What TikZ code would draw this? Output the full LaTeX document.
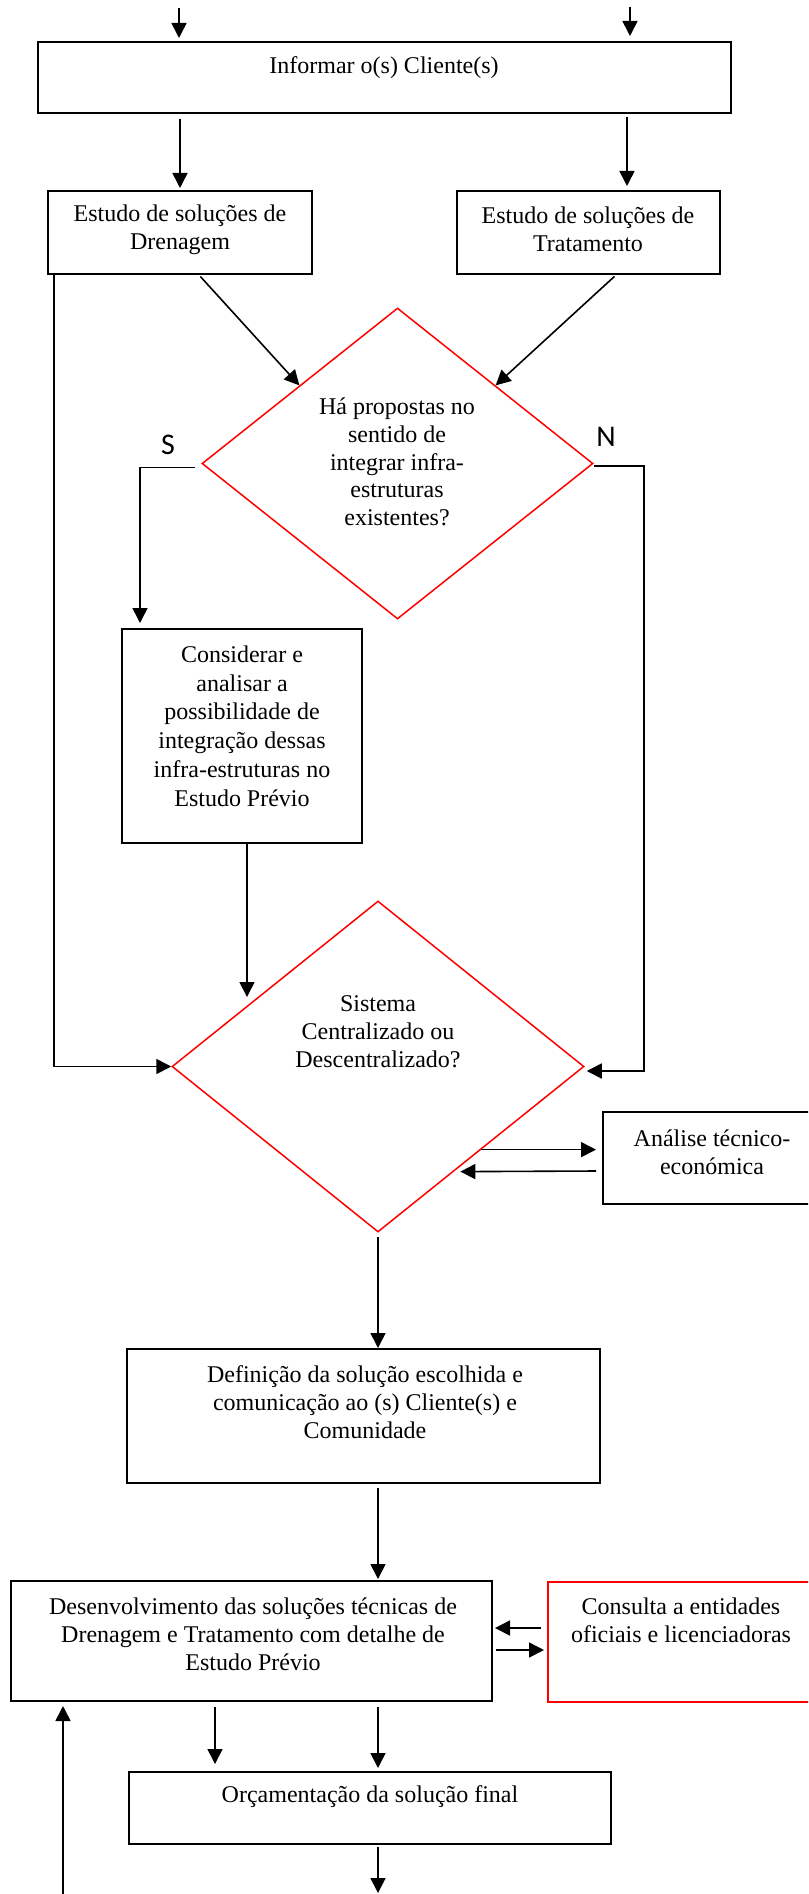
\documentclass[tikz,border=0pt]{standalone}
\usepackage{fontspec}
\setmainfont{Liberation Serif}
\newfontfamily\yesnofont{Carlito}
\usetikzlibrary{shapes.geometric,arrows.meta,calc,fit}

\begin{document}
\begin{tikzpicture}[x=0.5pt,y=-0.5pt,
  font=\fontsize{12}{13.9}\selectfont,
  box/.style={draw=black,line width=1pt,inner sep=0pt,rectangle},
  redbox/.style={draw=red,line width=1pt,inner sep=0pt,rectangle},
  dia/.style={draw=red,line width=0.75pt,diamond,inner sep=0pt,shape aspect=1},
  txt/.style={align=center,inner sep=0pt},
  yn/.style={inner sep=0pt,font=\yesnofont\fontsize{15}{15}\selectfont},
  arr/.style={-{Triangle[length=7.5pt,width=7.5pt]},line width=0.8pt}]

\useasboundingbox (0,0) rectangle (808,1894);
\clip (0,0) rectangle (808,1894);

% ---- boxes ----
\node[box,fit={(38,42) (731,113)}] (inf) {};
\node[txt] (inf-t) at (384,68) {Informar o(s) Cliente(s)};

\node[box,fit={(48,191) (312,274)}] (dren) {};
\node[txt] (dren-t) at (180,229.5) {Estudo de soluções de\\Drenagem};

\node[box,fit={(457,191) (720,274)}] (trat) {};
\node[txt] (trat-t) at (588,229.5) {Estudo de soluções de\\Tratamento};

\node[dia,minimum width=195.5pt,minimum height=155.5pt] (d1) at (397.5,463.5) {};
\node[txt] (d1-t) at (397,462) {Há propostas no\\sentido de\\integrar infra-\\estruturas\\existentes?};

\node[yn] (s-lab) at (168,445) {S};
\node[yn] (n-lab) at (606,437) {N};

\node[box,fit={(122,629) (362,843)}] (consid) {};
\node[txt,font=\fontsize{12}{14.4}\selectfont] (consid-t) at (242,726) {Considerar e\\analisar a\\possibilidade de\\integração dessas\\infra-estruturas no\\Estudo Prévio};

\node[dia,minimum width=206pt,minimum height=165.5pt] (d2) at (378,1066.5) {};
\node[txt] (d2-t) at (378,1031.5) {Sistema\\Centralizado ou\\Descentralizado?};

\node[box,fit={(603,1112) (840,1204)}] (ana) {};
\node[txt] (ana-t) at (712,1152) {Análise técnico-\\económica};

\node[box,fit={(127,1349) (600,1483)}] (def) {};
\node[txt] (def-t) at (365,1402) {Definição da solução escolhida e\\comunicação ao (s) Cliente(s) e\\Comunidade};

\node[box,fit={(11,1581) (492,1701)}] (des) {};
\node[txt] (des-t) at (253,1634.5) {Desenvolvimento das soluções técnicas de\\Drenagem e Tratamento com detalhe de\\Estudo Prévio};

\node[redbox,fit={(548,1582) (840,1702)}] (consulta) {};
\node[txt] (consulta-t) at (681,1620.5) {Consulta a entidades\\oficiais e licenciadoras};

\node[box,fit={(129,1772) (611,1844)}] (orc) {};
\node[txt] (orc-t) at (370,1797) {Orçamentação da solução final};

% ---- free ends ----
\coordinate (inL) at (179,8);
\coordinate (inR) at (630,7);
\coordinate (outB) at (378,1894);
\coordinate (inB) at (63,1894);

% ---- connectors ----
\draw[arr,shorten >=1.5pt] (inL) -- (inL |- inf.north);
\draw[arr,shorten >=2.5pt] (inR) -- (inR |- inf.north);

\draw[arr,shorten <=2.5pt,shorten >=1pt] (dren.north |- inf.south) -- (dren.north);
\coordinate (tratIn) at ($(trat.north)+(38.5,0)$);
\draw[arr,shorten <=1.5pt,shorten >=2pt] (tratIn |- inf.south) -- (tratIn);

\draw[arr,shorten <=1pt] ($(dren.south)+(19,0)$) -- (d1.north west);
\draw[arr,shorten <=1pt] ($(trat.south)+(27.5,0)$) -- (d1.north east);

% S branch
\coordinate (sDrop) at ($(consid.north)+(-102,0)$);
\draw[arr,shorten >=2.5pt] ($(d1.west)+(-6,4)$) -| (sDrop);

% N branch
\draw[arr,shorten >=1pt] ($(d1.east)+(0,2.5)$) -- ($(d1.east)+(50,2.5)$) |- ($(d2.east)+(0,4.5)$);

% bypass on the left
\draw[arr] ($(dren.south west)+(7,0)$) |- (d2.west);

% Considerar -> decision 2
\coordinate (cDrop) at ($(consid.south)+(5,0)$);
\draw[arr] (cDrop) -- (cDrop |- d2.150);

% decision 2 <-> Análise
\draw[arr,shorten >=3pt] (d2.south east) -- (d2.south east -| ana.west);
\coordinate (aBack) at ($(ana.west)+(-6,13)$);
\draw[arr] (aBack) -- ($(d2.south east)+(-21,22)$);

% main column
\draw[arr,shorten <=2pt] (d2.south) -- (d2.south |- def.north);
\draw[arr,shorten <=2pt,shorten >=0.5pt] (d2.south |- def.south) -- (d2.south |- des.north);

% Desenvolvimento <-> Consulta
\coordinate (c1) at ($(consulta.west)+(-6,-14)$);
\draw[arr,shorten >=1pt] (c1) -- (c1 -| des.east);
\coordinate (c2) at ($(des.east)+(3,9)$);
\draw[arr,shorten >=1.5pt] (c2) -- (c2 -| consulta.west);

% Desenvolvimento -> Orçamentação
\coordinate (oL) at ($(orc.north)+(-155,0)$);
\draw[arr,shorten <=2.5pt,shorten >=3.5pt] (oL |- des.south) -- (oL);
\draw[arr,shorten <=2.5pt,shorten >=1.5pt] (d2.south |- des.south) -- (d2.south |- orc.north);

% leaving / returning
\draw[arr,shorten <=1pt,shorten >=0.5pt] (d2.south |- orc.south) -- (outB);
\draw[arr,shorten >=2pt] (inB) -- (inB |- des.south);
\end{tikzpicture}
\end{document}
